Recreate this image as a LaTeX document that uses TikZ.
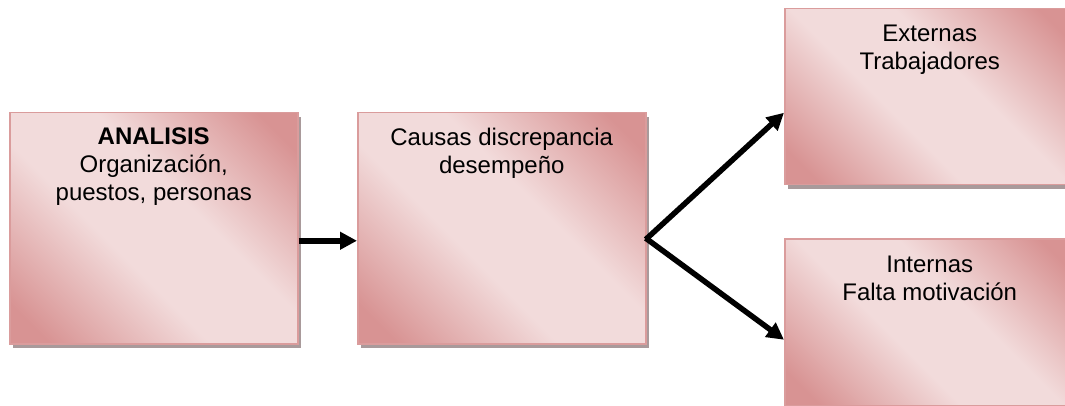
\documentclass[tikz,border=0pt]{standalone}
\usepackage{fontspec}
\setmainfont{Liberation Sans}
\usetikzlibrary{arrows.meta}

\definecolor{boxdark}{HTML}{D89393}
\definecolor{boxlight}{HTML}{F2DBDB}
\definecolor{boxedge}{HTML}{DA9C9C}
\definecolor{boxshadow}{HTML}{A99A9B}

% diagonal fill: dark in two opposite corners, light band along the other diagonal
\pgfdeclarehorizontalshading{boxgrad}{100bp}{%
  color(0bp)=(boxdark); color(20bp)=(boxdark);
  color(42bp)=(boxlight); color(58bp)=(boxlight);
  color(80bp)=(boxdark); color(100bp)=(boxdark)}

\begin{document}
\begin{tikzpicture}[x=1pt,y=-1pt,
  pinkbox/.style={draw=boxedge, line width=1.5pt, shading=boxgrad,
    shading angle=45, anchor=north west, inner sep=0pt,
    preaction={fill=boxshadow, transform canvas={shift={(3.5pt,-4pt)}}}},
  boxtext/.style={anchor=north, yshift=-16pt, inner sep=0pt, align=center,
    font=\fontsize{24}{27.6}\selectfont},
  flow/.style={line width=5.5pt, -{Triangle[length=17pt,width=17pt]}}]

\useasboundingbox (0,0) rectangle (1065,406);

% the two right-hand boxes run past the page edge
\node[pinkbox, minimum width=288pt, minimum height=231pt,
  label={[boxtext]north:{\textbf{ANALISIS}\\Organización,\\puestos, personas}}]
  (analisis) at (9,112) {};
\node[pinkbox, minimum width=288pt, minimum height=231pt,
  label={[boxtext]north:{Causas discrepancia\\desempeño}}]
  (causas) at (357,112) {};
\node[pinkbox, minimum width=290pt, minimum height=176pt,
  label={[boxtext, yshift=-1pt]north:{Externas\\Trabajadores}}]
  (externas) at (784,8) {};
\node[pinkbox, minimum width=290pt, minimum height=167pt,
  label={[boxtext, yshift=-2pt]north:{Internas\\Falta motivación}}]
  (internas) at (784,238) {};

\coordinate (split) at ([yshift=-10.5pt]causas.east);

\draw[flow] ([yshift=-12.5pt]analisis.east) -- ([yshift=-12.5pt]causas.west);
\draw[flow, shorten <=-1pt] (split) -- ([yshift=-16pt]externas.west);
\draw[flow, shorten <=-1pt] (split) -- ([yshift=-17.5pt]internas.west);
\end{tikzpicture}
\end{document}
